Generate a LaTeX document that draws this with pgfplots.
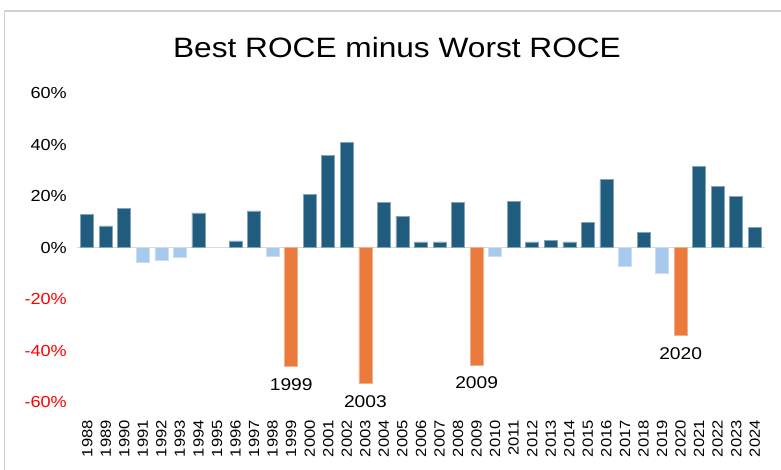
\documentclass[border=0pt]{standalone}
\usepackage{fontspec}
\setmainfont{Liberation Sans}[FakeStretch=1.13]
\usepackage{pgfplots}
\pgfplotsset{compat=1.18}
\definecolor{darkb}{HTML}{1F5C7E}
\definecolor{lightb}{HTML}{A6C9EC}
\definecolor{orng}{HTML}{EA7B3C}
\definecolor{zerol}{HTML}{DADADA}
\definecolor{frame}{HTML}{D0D0D0}
\begin{document}
\begin{tikzpicture}
\path[use as bounding box] (0,0) rectangle (781bp,470bp);
\draw[frame, line width=1.5bp] (4.5bp,-2bp) -- (4.5bp,459bp) -- (783bp,459bp);
\node[anchor=base, inner sep=0pt, font=\fontsize{28bp}{31bp}\selectfont] at (397bp,412bp) {Best ROCE minus Worst ROCE};
\begin{axis}[
  at={(77bp,68bp)}, anchor=south west,
  scale only axis, width=688bp, height=309bp,
  xmin=1987.45, xmax=2024.55, ymin=-60, ymax=60,
  axis line style={draw=none},
  tick style={draw=none},
  clip=false,
  xtick={1988,1989,...,2024},
  /pgf/number format/assume math mode=true,
  /pgf/number format/1000 sep={},
  xticklabel style={yshift=-18bp, rotate=90, anchor=east, inner sep=0pt,
    font=\fontsize{14.7bp}{16bp}\selectfont},
  ytick={-60,-40,-20,0,20,40,60},
  yticklabels={\textcolor{red}{-60\%},\textcolor{red}{-40\%},\textcolor{red}{-20\%},0\%,20\%,40\%,60\%},
  yticklabel style={anchor=east, inner sep=0pt, xshift=-10bp,
    font=\fontsize{16bp}{18bp}\selectfont},
  bar width=0.7,
]
\draw[zerol, line width=1.7bp] (axis cs:1987.45,0) -- (axis cs:2024.55,0);
\addplot[ybar, bar shift=0pt, fill=darkb, draw=darkb!55!white, line width=0.6bp] coordinates {
(1988,12.8) (1989,8.4) (1990,15.3) (1994,13.4) (1996,2.6) (1997,14.2)
(2000,20.5) (2001,35.8) (2002,40.9) (2004,17.4) (2005,12.2) (2006,2.2)
(2007,2.2) (2008,17.4) (2011,17.9) (2012,2.2) (2013,2.8) (2014,2.2)
(2015,9.7) (2016,26.3) (2018,5.9) (2021,31.4) (2022,23.6) (2023,19.9) (2024,7.7)
};
\addplot[ybar, bar shift=0pt, fill=lightb, draw=lightb!60!white, line width=0.6bp] coordinates {
(1991,-5.7) (1992,-5.1) (1993,-3.8) (1998,-3.6) (2010,-3.6) (2017,-7.4) (2019,-10.0)
};
\addplot[ybar, bar shift=0pt, fill=orng, draw=orng!60!white, line width=0.6bp] coordinates {
(1999,-46.2) (2003,-52.6) (2009,-45.6) (2020,-34.0)
};
\foreach \yr/\v in {1999/-46.2, 2003/-52.6, 2009/-45.6, 2020/-34.0} {
  \edef\temp{\noexpand\node[anchor=north, inner sep=0pt, yshift=-12bp, font=\noexpand\fontsize{17bp}{19bp}\noexpand\selectfont] at (axis cs:\yr,\v) {\yr};}
  \temp
}
\end{axis}
\end{tikzpicture}
\end{document}
